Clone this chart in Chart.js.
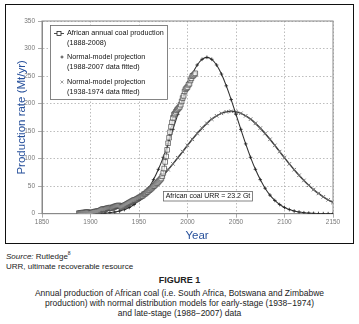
<!DOCTYPE html>
<html lang="en">
  <head>
    <meta charset="utf-8" />
    <title>African coal production</title>
    <style>
      * {
        margin: 0;
        padding: 0;
      }
      body {
        width: 359px;
        height: 324px;
        background: #fff;
        font-family: Arial, "Liberation Sans", sans-serif;
        position: relative;
        overflow: hidden;
      }
      .frame {
        position: absolute;
        left: 5px;
        top: 4px;
        width: 349px;
        height: 240px;
        border: 1.5px solid #111;
        box-sizing: border-box;
      }
      .chartBox {
        position: absolute;
        left: 0;
        top: 0;
        width: 359px;
        height: 245px;
      }
      .source {
        position: absolute;
        left: 6px;
        top: 248px;
        font-size: 8px;
        line-height: 10px;
        color: #222;
      }
      .caption {
        position: absolute;
        left: 0;
        top: 275px;
        width: 359px;
        text-align: center;
        font-size: 8.5px;
        line-height: 10px;
        color: #222;
      }
      .caption b {
        display: block;
        font-size: 9px;
        margin-bottom: 2.7px;
      }
    </style>
  </head>
  <body>
    <div class="frame"></div>
    <div class="chartBox">
      <canvas id="coalChart"></canvas>
    </div>
    <div class="source">
      <i>Source:</i> Rutledge<sup style="font-size:5px">8</sup><br />
      URR, ultimate recoverable resource
    </div>
    <div class="caption">
      <b>FIGURE 1</b>
      Annual production of African coal (i.e. South Africa, Botswana and Zimbabwe<br />
      production) with normal distribution models for early-stage (1938−1974)<br />
      and late-stage (1988−2007) data
    </div>

    <script src="https://cdn.jsdelivr.net/npm/chart.js@4"></script>

    <script>
      // actual production, one value per year from 1888 to 2008 (Mt/yr)
      const prodStart = 1888;
      const production = [
        1, 1, 1.5, 1.5, 2, 2, 2, 2.5, 2.5, 3, 2.5, 1.5,
        1, 1.5, 2.5, 3, 3.5, 4, 4, 4.5, 4.5, 5,
        6, 7, 8, 8.5, 8, 8, 9, 10, 10, 10.5,
        11, 11, 10, 11.5, 12, 13, 13.5, 14, 14.5, 15,
        14.5, 13, 12, 13, 14, 15, 16, 17, 18, 19,
        20, 21, 22, 23, 24, 25, 25, 26, 27, 28,
        29, 30, 31, 32, 33, 35, 36, 37, 39, 40,
        42, 43, 45, 46, 48, 50, 51, 53, 55, 56,
        58, 60, 62, 64, 68, 74, 82, 94, 104, 116,
        128, 138, 148, 158, 166, 174, 180, 182, 185, 188,
        190, 192, 194, 198, 204, 210, 214, 222, 226, 228,
        230, 234, 236, 242, 246, 250, 251, 253, 255,
      ];

      // projection years and the two normal-model curves
      const fitYears = [
        1890, 1895, 1900, 1905, 1910, 1915, 1920, 1925, 1930, 1935,
        1940, 1945, 1950, 1955, 1960, 1965, 1970, 1975, 1980, 1985,
        1990, 1995, 2000, 2005, 2010, 2015, 2020, 2025, 2030, 2035,
        2040, 2045, 2050, 2055, 2060, 2065, 2070, 2075, 2080, 2085,
        2090, 2095, 2100, 2105, 2110, 2115, 2120, 2125, 2130, 2135,
        2140, 2145, 2150,
      ];
      const fitLate = [
        0.06, 0.11, 0.2, 0.36, 0.64, 1.1, 1.8, 3.0, 4.8, 7.5,
        11.3, 16.7, 24.1, 33.8, 46.3, 61.9, 80.6, 102.4, 126.8, 153.2,
        180.5, 207.3, 232.2, 253.6, 270.1, 280.4, 284, 280.4, 270.1, 253.6,
        232.2, 207.3, 180.5, 153.2, 126.8, 102.4, 80.6, 61.9, 46.3, 33.8,
        24.1, 16.7, 11.3, 7.5, 4.8, 3.0, 1.8, 1.1, 0.64, 0.36,
        0.2, 0.11, 0.06,
      ];
      const fitEarly = [
        1.5, 2.1, 2.8, 3.7, 4.9, 6.3, 8.2, 10.4, 13.2, 16.5,
        20.5, 25.2, 30.6, 36.8, 43.8, 51.7, 60.4, 69.8, 79.9, 90.5,
        101.6, 112.8, 124.1, 135.1, 145.6, 155.4, 164.1, 171.7, 177.8, 182.3,
        185.1, 186, 185.1, 182.3, 177.8, 171.7, 164.1, 155.4, 145.6, 135.1,
        124.1, 112.8, 101.6, 90.5, 79.9, 69.8, 60.4, 51.7, 43.8, 36.8,
        30.6, 25.2, 20.5,
      ];

      const legendLines = [
        ["African annual coal production", "(1888-2008)"],
        ["Normal-model projection", "(1988-2007 data fitted)"],
        ["Normal-model projection", "(1938-1974 data fitted)"],
      ];
      const urrNote = "African coal URR = 23.2 Gt";
      const titleBlue = "#27509b";

      const tickFont = { family: "Arial", size: 6.5 };
      const gridOpts = { color: "#a0a0a0", lineWidth: 0.7, tickLength: 4, tickColor: "#888" };
      const borderOpts = { display: true, color: "#888", width: 1, dash: [1.5, 2] };

      // legend box, URR note, x title, plot frame
      const chartDecor = {
        id: "chartDecor",
        beforeDatasetsDraw(chart) {
          const { ctx, chartArea: { left, top, width, height } } = chart;
          ctx.save();
          ctx.strokeStyle = "#8a8a8a";
          ctx.lineWidth = 1;
          ctx.strokeRect(left, top, width, height);
          ctx.restore();
        },
        afterDraw(chart) {
          const { ctx } = chart;
          ctx.save();
          // legend
          ctx.fillStyle = "#fff";
          ctx.fillRect(50, 25, 117, 74);
          ctx.strokeStyle = "#666";
          ctx.lineWidth = 0.8;
          ctx.strokeRect(50.5, 25.5, 117, 74);
          ctx.font = "7.2px Arial";
          ctx.fillStyle = "#111";
          ctx.textBaseline = "middle";
          const rows = [33, 57, 82];
          legendLines.forEach((lines, i) => {
            ctx.fillText(lines[0], 67, rows[i]);
            ctx.fillText(lines[1], 67, rows[i] + 9.8);
          });
          ctx.strokeStyle = "#222";
          ctx.lineWidth = 0.8;
          ctx.beginPath();
          ctx.moveTo(54, 33.5);
          ctx.lineTo(64, 33.5);
          ctx.stroke();
          ctx.fillStyle = "#fff";
          ctx.fillRect(57, 31.5, 4, 4);
          ctx.strokeRect(57, 31.5, 4, 4);
          ctx.beginPath();
          ctx.moveTo(60.5, 57);
          ctx.lineTo(63.5, 57);
          ctx.moveTo(62, 55.5);
          ctx.lineTo(62, 58.5);
          ctx.stroke();
          ctx.strokeStyle = "#888";
          ctx.beginPath();
          ctx.moveTo(60.5, 80.5);
          ctx.lineTo(63.5, 83.5);
          ctx.moveTo(63.5, 80.5);
          ctx.lineTo(60.5, 83.5);
          ctx.stroke();
          // URR note
          ctx.fillStyle = "#fff";
          ctx.fillRect(163, 191, 89, 9.5);
          ctx.strokeStyle = "#666";
          ctx.strokeRect(163.5, 191.5, 89, 9.5);
          ctx.fillStyle = "#111";
          ctx.font = "7px Arial";
          ctx.textAlign = "center";
          ctx.fillText(urrNote, 208, 196.5);
          // x axis title
          ctx.fillStyle = titleBlue;
          ctx.font = "11.5px Arial";
          ctx.fillText("Year", 197, 235.5);
          ctx.restore();
        },
      };

      const config = {
        type: "scatter",
        data: {
          datasets: [
            {
              label: legendLines[0].join(" "),
              data: production.map((v, i) => ({ x: prodStart + i, y: v })),
              showLine: true,
              borderColor: "#333",
              borderWidth: 0.8,
              pointStyle: "rect",
              pointRadius: 3.3,
              pointBackgroundColor: "rgba(255,255,255,0.6)",
              pointBorderColor: "#444",
              pointBorderWidth: 0.7,
            },
            {
              label: legendLines[1].join(" "),
              data: fitYears.map((x, i) => ({ x, y: fitLate[i] })),
              showLine: true,
              tension: 0.3,
              borderColor: "#333",
              borderWidth: 1.1,
              pointStyle: "cross",
              pointRadius: 1.8,
              pointBorderColor: "#222",
              pointBorderWidth: 0.8,
            },
            {
              label: legendLines[2].join(" "),
              data: fitYears.map((x, i) => ({ x, y: fitEarly[i] })),
              showLine: true,
              tension: 0.3,
              borderColor: "#3a3a3a",
              borderWidth: 1.5,
              pointStyle: "crossRot",
              pointRadius: 2.5,
              pointBorderColor: "#777",
              pointBorderWidth: 1,
            },
          ],
        },
        options: {
          responsive: true,
          maintainAspectRatio: false,
          animation: false,
          layout: { padding: { left: 0, right: 26, top: 21, bottom: 0 } },
          plugins: {
            legend: { display: false },
            tooltip: { enabled: false },
          },
          scales: {
            x: {
              type: "linear",
              min: 1850,
              max: 2150,
              ticks: {
                stepSize: 50,
                font: tickFont,
                color: "#777",
                padding: 1,
                maxRotation: 0,
                callback: (v) => String(v),
              },
              grid: gridOpts,
              border: borderOpts,
              afterFit: (scale) => {
                scale.height = 31.3;
              },
            },
            y: {
              min: 0,
              max: 350,
              ticks: {
                stepSize: 50,
                font: tickFont,
                color: "#777",
                padding: 3,
                callback: (v) => String(v),
              },
              grid: gridOpts,
              border: borderOpts,
              title: {
                display: true,
                text: "Production rate (Mt/yr)",
                color: titleBlue,
                font: { family: "Arial", size: 11.5 },
                padding: { top: 15, bottom: 0 },
              },
              afterFit: (scale) => {
                scale.width = 42;
              },
            },
          },
        },
        plugins: [chartDecor],
      };

      const coalChart = new Chart(document.getElementById("coalChart"), config);
    </script>
  </body>
</html>
